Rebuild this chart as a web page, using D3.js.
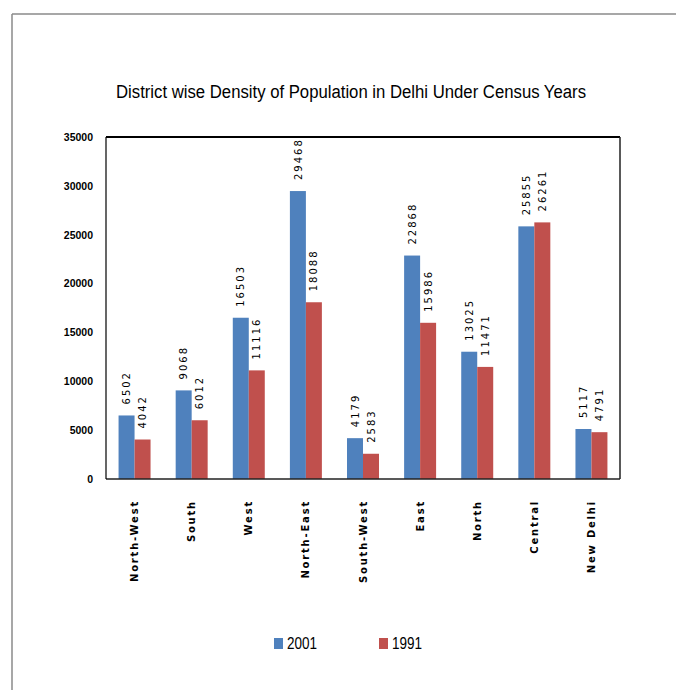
<!DOCTYPE html>
<html>
<head>
<meta charset="utf-8">
<script src="https://cdn.jsdelivr.net/npm/d3@7"></script>
<style>
  html, body { margin: 0; padding: 0; background: #fff; }
  svg { display: block; }
</style>
</head>
<body>
<svg id="chart" width="676" height="690"></svg>
<script>
const title = "District wise Density of Population  in Delhi Under Census Years";
const districts = ["North-West", "South", "West", "North-East", "South-West", "East", "North", "Central", "New Delhi"];
const values2001 = [6502, 9068, 16503, 29468, 4179, 22868, 13025, 25855, 5117];
const values1991 = [4042, 6012, 11116, 18088, 2583, 15986, 11471, 26261, 4791];
const seriesNames = ["2001", "1991"];
const seriesColors = ["#4F81BD", "#C0504D"];
const yTicks = [0, 5000, 10000, 15000, 20000, 25000, 30000, 35000];

const svg = d3.select("#chart");

// outer frame (top + left lines)
svg.append("line").attr("x1", 12).attr("y1", 14).attr("x2", 676).attr("y2", 14)
  .attr("stroke", "#8a8a8a").attr("stroke-width", 1.5);
svg.append("line").attr("x1", 12).attr("y1", 14).attr("x2", 12).attr("y2", 690)
  .attr("stroke", "#8a8a8a").attr("stroke-width", 1.5);

// title
svg.append("text")
  .attr("x", 351).attr("y", 98)
  .attr("text-anchor", "middle")
  .attr("font-family", "Liberation Sans, Arial, sans-serif")
  .attr("font-size", 18)
  .attr("textLength", 470)
  .attr("lengthAdjust", "spacingAndGlyphs")
  .attr("fill", "#000")
  .text(title);

const plot = { left: 106, right: 620, top: 137, bottom: 479 };

const x0 = d3.scaleBand().domain(districts).range([plot.left, plot.right])
  .paddingInner(0.44).paddingOuter(0.22);
const x1 = d3.scaleBand().domain(seriesNames).range([0, x0.bandwidth()]);
const y = d3.scaleLinear().domain([0, 35000]).range([plot.bottom, plot.top]);

const rows = districts.map((d, i) => ({ district: d, vals: [values2001[i], values1991[i]] }));

// bars
const groups = svg.append("g").selectAll("g").data(rows).join("g")
  .attr("transform", d => `translate(${x0(d.district)},0)`);

groups.selectAll("rect").data(d => d.vals.map((v, k) => ({ v, k })))
  .join("rect")
  .attr("x", d => x1(seriesNames[d.k]))
  .attr("width", x1.bandwidth())
  .attr("y", d => y(d.v))
  .attr("height", d => y(0) - y(d.v))
  .attr("fill", d => seriesColors[d.k]);

// value labels
groups.selectAll("text.val").data(d => d.vals.map((v, k) => ({ v, k })))
  .join("text")
  .attr("class", "val")
  .attr("transform", d => `translate(${x1(seriesNames[d.k]) + x1.bandwidth() / 2},${y(d.v) - 11}) rotate(-90)`)
  .attr("dy", "0.36em")
  .attr("text-anchor", "start")
  .attr("font-family", "DejaVu Sans, sans-serif")
  .attr("font-size", 10)
  .attr("letter-spacing", 2)
  .attr("fill", "#000")
  .text(d => d.v);

// plot box
svg.append("line").attr("x1", plot.left).attr("y1", plot.top).attr("x2", plot.right).attr("y2", plot.top)
  .attr("stroke", "#000").attr("stroke-width", 2);
svg.append("line").attr("x1", plot.right).attr("y1", plot.top).attr("x2", plot.right).attr("y2", plot.bottom)
  .attr("stroke", "#222").attr("stroke-width", 1.5);
svg.append("line").attr("x1", plot.left).attr("y1", plot.bottom).attr("x2", plot.right).attr("y2", plot.bottom)
  .attr("stroke", "#222").attr("stroke-width", 1.5);
svg.append("line").attr("x1", plot.left).attr("y1", plot.top).attr("x2", plot.left).attr("y2", plot.bottom)
  .attr("stroke", "#000").attr("stroke-width", 1.2);

// y axis labels
const yAxis = d3.axisLeft(y).tickValues(yTicks).tickSize(0).tickPadding(13).tickFormat(d3.format("d"));
const yg = svg.append("g").attr("transform", `translate(${plot.left},0)`).call(yAxis);
yg.select(".domain").remove();
yg.selectAll("text")
  .attr("font-family", "Liberation Sans, Arial, sans-serif")
  .attr("font-weight", "bold")
  .attr("font-size", 10.5)
  .attr("fill", "#000");

// x axis labels
const xAxis = d3.axisBottom(x0).tickSize(0);
const xg = svg.append("g").attr("transform", `translate(0,${plot.bottom})`).call(xAxis);
xg.select(".domain").remove();
xg.selectAll("text")
  .attr("font-family", "DejaVu Sans, sans-serif")
  .attr("font-weight", "bold")
  .attr("font-size", 10)
  .attr("letter-spacing", 1.8)
  .attr("fill", "#000")
  .attr("text-anchor", "end")
  .attr("transform", "rotate(-90)")
  .attr("x", -21)
  .attr("y", 0)
  .attr("dy", "0.36em");

// legend
const legendItems = [{ name: seriesNames[0], color: seriesColors[0], x: 274 }, { name: seriesNames[1], color: seriesColors[1], x: 379 }];
const lg = svg.append("g").selectAll("g").data(legendItems).join("g")
  .attr("transform", d => `translate(${d.x},638)`);
lg.append("rect").attr("width", 9).attr("height", 11).attr("fill", d => d.color);
lg.append("text")
  .attr("x", 13).attr("y", 11)
  .attr("font-family", "Liberation Sans, Arial, sans-serif")
  .attr("font-size", 16.5)
  .attr("textLength", 30)
  .attr("lengthAdjust", "spacingAndGlyphs")
  .attr("fill", "#000")
  .text(d => d.name);
</script>
</body>
</html>
